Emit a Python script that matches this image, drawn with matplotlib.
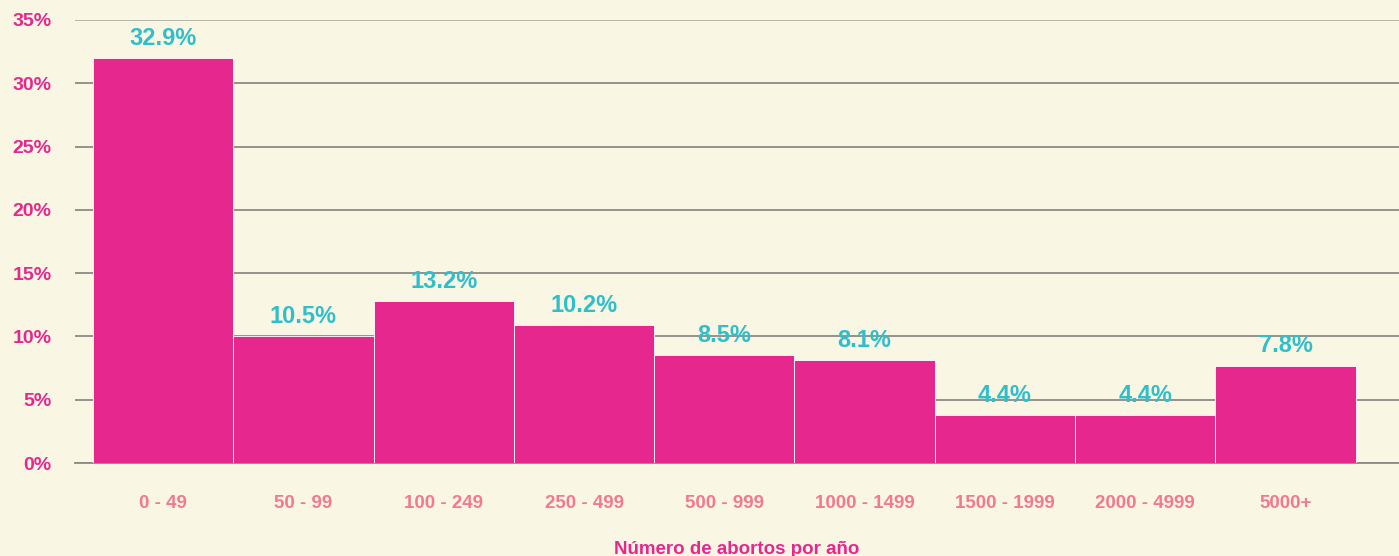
import matplotlib
matplotlib.use('Agg')
import matplotlib.pyplot as plt
import numpy as np

# datos
categorias = ['0 - 49', '50 - 99', '100 - 249', '250 - 499', '500 - 999',
              '1000 - 1499', '1500 - 1999', '2000 - 4999', '5000+']
alturas = [32.0, 10.0, 12.8, 10.9, 8.5, 8.1, 3.8, 3.8, 7.7]
etiquetas = ['32.9%', '10.5%', '13.2%', '10.2%', '8.5%', '8.1%', '4.4%', '4.4%', '7.8%']
yticks = [0, 5, 10, 15, 20, 25, 30, 35]

fondo = '#faf6e4'
rosa = '#e6288e'
turquesa = '#30bfca'
salmon = '#f27a8e'

plt.rcParams['font.family'] = ['Liberation Sans', 'DejaVu Sans']

fig = plt.figure(figsize=(13.99, 5.56), dpi=100)
fig.patch.set_facecolor(fondo)
ax = fig.add_axes([75 / 1399, 93 / 556, 1324 / 1399, 443 / 556])
ax.set_facecolor(fondo)

x = np.arange(len(categorias))
ax.bar(x, alturas, width=1.0, color=rosa, edgecolor='white', linewidth=0.6, zorder=3)

# etiquetas de valor
for xi, h, lab in zip(x, alturas, etiquetas):
    ax.text(xi, h + 0.65, lab, ha='center', va='bottom', color=turquesa,
            fontsize=17, fontweight='bold', zorder=4)

ax.set_xlim(-0.628, 8.809)
ax.set_ylim(0, 35)
ax.set_yticks(yticks)
ax.set_yticklabels([f'{t}%' for t in yticks], color=rosa, fontsize=14, fontweight='bold',
                   va='top')
ax.set_xticks(x)
ax.set_xticklabels(categorias, color=salmon, fontsize=13.5, fontweight='bold')
ax.tick_params(axis='both', length=0)
ax.tick_params(axis='y', pad=17)
ax.tick_params(axis='x', pad=23)
# bajar un poco las etiquetas del eje y
for t in ax.get_yticklabels():
    t.set_va('center_baseline')

ax.yaxis.grid(True, color='#8c8a82', linewidth=1.3, zorder=0)
ax.get_ygridlines()[-1].set_color('#b3afa5')
ax.set_axisbelow(True)

for s in ['top', 'right', 'left']:
    ax.spines[s].set_visible(False)
ax.spines['bottom'].set_color('#8c8a82')
ax.spines['bottom'].set_linewidth(1.3)

ax.set_xlabel('Número de abortos por año', color=rosa, fontsize=13.5,
              fontweight='bold', labelpad=21)

fig.savefig('out.png', dpi=100, facecolor=fondo)
